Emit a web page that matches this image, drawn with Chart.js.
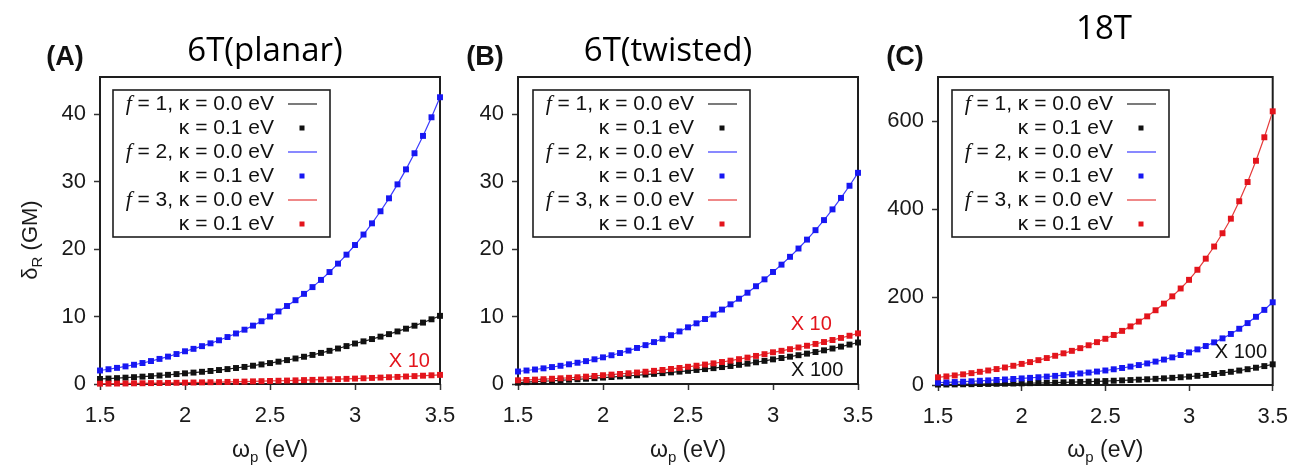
<!DOCTYPE html>
<html><head><meta charset="utf-8">
<script src="https://cdn.jsdelivr.net/npm/chart.js@4.4.1/dist/chart.umd.min.js"></script>
<style>
html,body{margin:0;padding:0;background:#fff;width:1301px;height:469px;overflow:hidden}
canvas{position:absolute;left:0;top:0}
</style></head>
<body>
<canvas id="cA" width="1301" height="469"></canvas>
<canvas id="cB" width="1301" height="469"></canvas>
<canvas id="cC" width="1301" height="469"></canvas>
<script>
// ---------- DATA ----------
const omega = [1.50,1.55,1.60,1.65,1.70,1.75,1.80,1.85,1.90,1.95,2.00,2.05,2.10,2.15,2.20,2.25,2.30,2.35,2.40,2.45,2.50,2.55,2.60,2.65,2.70,2.75,2.80,2.85,2.90,2.95,3.00,3.05,3.10,3.15,3.20,3.25,3.30,3.35,3.40,3.45,3.50];

// Panel A: 6T(planar)
const A_f1 = [0.75,0.81,0.87,0.94,1.01,1.09,1.17,1.26,1.36,1.47,1.58,1.69,1.81,1.93,2.07,2.21,2.37,2.53,2.71,2.90,3.10,3.31,3.54,3.78,4.04,4.31,4.61,4.92,5.26,5.62,6.00,6.32,6.66,7.02,7.39,7.79,8.20,8.64,9.10,9.59,10.1];
const A_f2 = [2.00,2.19,2.39,2.61,2.85,3.11,3.40,3.72,4.06,4.44,4.85,5.21,5.61,6.03,6.48,6.96,7.49,8.05,8.65,9.30,10.0,10.75,11.56,12.42,13.36,14.36,15.43,16.59,17.84,19.17,20.6,22.15,23.81,25.6,27.52,29.59,31.81,34.2,36.77,39.53,42.5];
const A_f3x10 = [0.05,0.06,0.07,0.08,0.10,0.11,0.13,0.14,0.16,0.18,0.20,0.22,0.24,0.26,0.28,0.31,0.33,0.36,0.39,0.42,0.45,0.48,0.51,0.54,0.58,0.61,0.65,0.69,0.72,0.76,0.80,0.85,0.90,0.95,1.00,1.05,1.11,1.17,1.23,1.29,1.35];

// Panel B: 6T(twisted)
const B_f1x100 = [0.20,0.27,0.34,0.41,0.48,0.55,0.63,0.70,0.78,0.86,0.95,1.03,1.12,1.21,1.30,1.40,1.50,1.61,1.72,1.83,1.95,2.08,2.21,2.35,2.51,2.67,2.84,3.02,3.22,3.43,3.65,3.85,4.05,4.27,4.50,4.74,4.99,5.26,5.54,5.84,6.15];
const B_f2 = [1.85,2.00,2.15,2.32,2.51,2.70,2.92,3.15,3.39,3.66,3.95,4.26,4.59,4.95,5.34,5.76,6.21,6.70,7.23,7.79,8.40,8.99,9.63,10.3,11.03,11.81,12.64,13.53,14.49,15.51,16.6,17.69,18.85,20.08,21.4,22.8,24.29,25.88,27.58,29.38,31.3];
const B_f3x10 = [0.55,0.60,0.65,0.71,0.78,0.85,0.92,1.00,1.09,1.19,1.30,1.39,1.49,1.59,1.70,1.82,1.95,2.08,2.23,2.38,2.55,2.71,2.88,3.06,3.26,3.46,3.68,3.91,4.16,4.42,4.70,4.92,5.16,5.41,5.67,5.94,6.22,6.52,6.83,7.15,7.50];

// Panel C: 18T
const C_f1x100 = [1.0,1.17,1.37,1.61,1.88,2.2,2.45,2.74,3.05,3.41,3.8,4.16,4.56,5.0,5.48,6.0,6.51,7.06,7.65,8.3,9.0,9.69,10.43,11.22,12.08,13.0,14.03,15.13,16.33,17.61,19.0,20.82,22.81,24.99,27.39,30.0,32.82,35.9,39.28,42.97,47.0];
const C_f2 = [5.3,5.97,6.72,7.57,8.53,9.6,10.5,11.48,12.55,13.72,15.0,16.27,17.64,19.13,20.75,22.5,24.29,26.22,28.31,30.56,33.0,35.72,38.66,41.84,45.28,49.0,53.21,57.78,62.74,68.13,74.0,80.96,88.58,96.92,106.0,116.0,127.8,140.7,155.0,170.7,188.0];
const C_f3 = [17.5,19.49,21.71,24.18,26.93,30.0,32.96,36.21,39.78,43.7,48.0,52.06,56.46,61.23,66.4,72.0,77.64,83.73,90.29,97.37,105.0,113.7,123.0,133.2,144.1,156.0,169.9,185.0,201.5,219.4,239.0,261.9,287.1,314.7,344.9,378.0,417.6,461.3,509.6,563.0,622.0];

const panelTitles = ['6T(planar)', '6T(twisted)', '18T'];
const panelLetters = ['(A)', '(B)', '(C)'];
const xTitle = ['ω', 'p', ' (eV)'];
const yTitle = ['δ', 'R', ' (GM)'];
const legendRows = [
  {f:'1', k:'0.0', kind:'line', s:0},
  {k:'0.1', kind:'mark', s:0},
  {f:'2', k:'0.0', kind:'line', s:1},
  {k:'0.1', kind:'mark', s:1},
  {f:'3', k:'0.0', kind:'line', s:2},
  {k:'0.1', kind:'mark', s:2}
];
const annA = [{text:'X 10', x:3.32, y:3.4, s:2}];
const annB = [{text:'X 10', x:3.225, y:8.75, s:2}, {text:'X 100', x:3.26, y:2.05, s:0}];
const annC = [{text:'X 100', x:3.31, y:75, s:0}];

// ---------- STYLE ----------
const markColors = ['#111111', '#1717f2', '#e3141c'];
const lineColors = ['#222222', '#3b3bff', '#e53a3a'];
const SANS = "'Liberation Sans', Arial, sans-serif";
const SERIF = "'Liberation Serif', 'Times New Roman', serif";

const deco = {
  id: 'deco',
  beforeDatasetsDraw(chart, args, o) {
    const a = chart.chartArea, ctx = chart.ctx;
    ctx.save();
    ctx.strokeStyle = '#1e1e1e'; ctx.lineWidth = 2;
    ctx.strokeRect(a.left, a.top, a.right - a.left, a.bottom - a.top);
    ctx.restore();
  },
  afterDraw(chart, args, o) {
    const a = chart.chartArea, ctx = chart.ctx;
    const xs = chart.scales.x, ys = chart.scales.y;
    ctx.save();
    // legend box
    const bl = a.left + o.legendDx, bt = a.top + 13, bw = 217, bh = 147;
    ctx.fillStyle = '#fff'; ctx.fillRect(bl, bt, bw, bh);
    ctx.strokeStyle = '#1e1e1e'; ctx.lineWidth = 1.6;
    ctx.strokeRect(bl, bt, bw, bh);
    ctx.textBaseline = 'middle';
    legendRows.forEach((r, i) => {
      const y = bt + 14 + 24 * i;
      const rx = bl + 161;
      ctx.fillStyle = '#111';
      ctx.textAlign = 'right';
      ctx.font = '21px ' + SANS;
      const rest = (r.f ? '= ' + r.f + ', ' : '') + 'κ = ' + r.k + ' eV';
      ctx.fillText(rest, rx, y);
      if (r.f) {
        const w = ctx.measureText(rest).width;
        ctx.font = 'italic 22px ' + SERIF;
        ctx.fillText('f ', rx - w, y);
      }
      if (r.kind === 'line') {
        ctx.strokeStyle = lineColors[r.s]; ctx.lineWidth = 1.2;
        ctx.beginPath(); ctx.moveTo(bl + 175, y); ctx.lineTo(bl + 204, y); ctx.stroke();
      } else {
        ctx.fillStyle = markColors[r.s];
        ctx.fillRect(bl + 186.5, y - 2.5, 5, 5);
      }
    });
    // annotations
    o.ann.forEach(t => {
      ctx.fillStyle = markColors[t.s];
      ctx.font = '20px ' + SANS;
      ctx.textAlign = 'center'; ctx.textBaseline = 'middle';
      ctx.fillText(t.text, xs.getPixelForValue(t.x), ys.getPixelForValue(t.y));
    });
    // x title with subscript
    {
      ctx.fillStyle = '#1a1a1a'; ctx.textBaseline = 'alphabetic'; ctx.textAlign = 'left';
      const big = '23px ' + SANS, small = '15px ' + SANS;
      ctx.font = big; const w1 = ctx.measureText(xTitle[0]).width, w3 = ctx.measureText(xTitle[2]).width;
      ctx.font = small; const w2 = ctx.measureText(xTitle[1]).width;
      let x = (a.left + a.right) / 2 - (w1 + w2 + w3) / 2;
      const yb = 457;
      ctx.font = big; ctx.fillText(xTitle[0], x, yb); x += w1;
      ctx.font = small; ctx.fillText(xTitle[1], x, yb + 5); x += w2;
      ctx.font = big; ctx.fillText(xTitle[2], x, yb);
    }
    // y title
    if (o.yTitle) {
      ctx.translate(37, 240); ctx.rotate(-Math.PI / 2);
      ctx.fillStyle = '#1a1a1a'; ctx.textBaseline = 'alphabetic'; ctx.textAlign = 'left';
      const big = '22px ' + SANS, small = '15px ' + SANS;
      ctx.font = big; const w1 = ctx.measureText(yTitle[0]).width, w3 = ctx.measureText(yTitle[2]).width;
      ctx.font = small; const w2 = ctx.measureText(yTitle[1]).width;
      let x = -(w1 + w2 + w3) / 2;
      ctx.font = big; ctx.fillText(yTitle[0], x, 0); x += w1;
      ctx.font = small; ctx.fillText(yTitle[1], x, 5); x += w2;
      ctx.font = big; ctx.fillText(yTitle[2], x, 0);
      ctx.setTransform(1, 0, 0, 1, 0, 0);
    }
    // panel letter and title
    ctx.fillStyle = '#111'; ctx.textAlign = 'center';
    ctx.textBaseline = 'middle'; ctx.font = 'bold 27px ' + SANS;
    ctx.fillText(o.letter, o.letterX, 58);
    ctx.fillStyle = '#000'; ctx.textBaseline = 'alphabetic';
    ctx.font = "33px 'Open Sans', 'Noto Sans', sans-serif";
    ctx.fillText(o.title, o.titleX, o.titleY);
    ctx.restore();
  }
};

function pts(arr) { return omega.map((x, i) => ({x: x, y: arr[i]})); }

function makeChart(id, p) {
  const series = [p.f1, p.f2, p.f3];
  const datasets = [];
  // markers (kappa = 0.1 eV) on top
  [2, 1, 0].forEach((s, k) => datasets.push({
    data: pts(series[s]), showLine: false, pointStyle: 'rect', pointRadius: 4.2,
    pointBackgroundColor: markColors[s], pointBorderWidth: 0, order: k + 1, clip: false
  }));
  // lines (kappa = 0.0 eV)
  [2, 1, 0].forEach((s, k) => datasets.push({
    data: pts(series[s]), showLine: true, pointRadius: 0, borderColor: lineColors[s],
    borderWidth: 1.2, tension: 0, order: k + 10, clip: false
  }));
  const tickFont = {family: SANS, size: 22};
  return new Chart(document.getElementById(id), {
    type: 'scatter',
    data: {datasets},
    plugins: [deco],
    options: {
      responsive: false, animation: false, devicePixelRatio: 1, events: [],
      layout: {padding: {left: p.padL, right: p.padR, top: 77, bottom: 0}, autoPadding: false},
      plugins: {
        legend: {display: false}, tooltip: {enabled: false},
        deco: {legendDx: p.legendDx, ann: p.ann, yTitle: p.yTitle, letter: p.letter,
               letterX: p.letterX, title: p.title, titleX: p.titleX, titleY: p.titleY}
      },
      scales: {
        x: {
          type: 'linear', min: 1.5, max: 3.5,
          ticks: {stepSize: 0.5, font: tickFont, color: '#1a1a1a', padding: 13, maxRotation: 0, autoSkip: false,
                  includeBounds: false, callback: v => String(v)},
          grid: {drawOnChartArea: false, tickLength: 6, tickColor: '#333', tickWidth: 1.5, color: '#333'},
          border: {display: false},
          afterFit(s) { s.height = 469 - p.bottom; }
        },
        y: {
          type: 'linear', min: 0, max: p.yMax,
          ticks: {stepSize: p.yStep, font: tickFont, color: '#1a1a1a', padding: 8, includeBounds: false},
          grid: {drawOnChartArea: false, tickLength: 6, tickColor: '#333', tickWidth: 1.5, color: '#333'},
          border: {display: false},
          afterFit(s) { s.width = 60; }
        }
      }
    }
  });
}

makeChart('cA', {f1: A_f1, f2: A_f2, f3: A_f3x10, padL: 40, padR: 1301 - 440, bottom: 384,
  yMax: 45.5, yStep: 10, legendDx: 13, ann: annA, yTitle: true, letter: panelLetters[0], letterX: 65,
  title: panelTitles[0], titleX: 265, titleY: 61});
makeChart('cB', {f1: B_f1x100, f2: B_f2, f3: B_f3x10, padL: 518 - 60, padR: 1301 - 858, bottom: 384,
  yMax: 45.5, yStep: 10, legendDx: 15, ann: annB, yTitle: false, letter: panelLetters[1], letterX: 485,
  title: panelTitles[1], titleX: 668, titleY: 61});
makeChart('cC', {f1: C_f1x100, f2: C_f2, f3: C_f3, padL: 938 - 60, padR: 1301 - 1278, bottom: 385,
  yMax: 700, yStep: 200, legendDx: 14, ann: annC, yTitle: false, letter: panelLetters[2], letterX: 905,
  title: panelTitles[2], titleX: 1104, titleY: 39});
</script>
</body></html>
